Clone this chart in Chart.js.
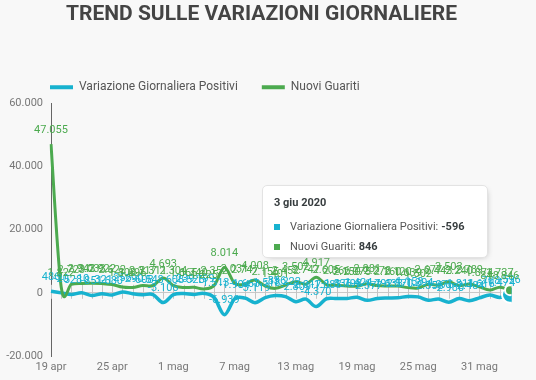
<!DOCTYPE html>
<html><head><meta charset="utf-8">
<script src="https://cdn.jsdelivr.net/npm/chart.js@4"></script>
<style>
html,body{margin:0;padding:0;background:#f8f8f8;}
#wrap{position:relative;width:536px;height:380px;overflow:hidden;}
#tt{position:absolute;pointer-events:none;background:#fff;border:1px solid #e3e3e3;border-radius:5px;box-shadow:2px 2px 6px -4px #999;font-family:Roboto,sans-serif;font-size:11px;color:#555;white-space:nowrap;box-sizing:border-box;opacity:0;}
.tt-title{font-weight:bold;color:#373d3f;line-height:14px;padding:10px 20px 7px 11px;}
.tt-row{height:20px;line-height:20px;padding:0 22px 0 11px;display:flex;align-items:center;}
.tt-m{display:inline-block;width:6px;height:6px;margin-right:10px;}
.tt-row b{color:#373d3f;margin-left:3px;}
</style></head><body>
<div id="wrap"><canvas id="c" width="536" height="380"></canvas><div id="tt"></div></div>
<script>
const days = ['19 apr','20 apr','21 apr','22 apr','23 apr','24 apr','25 apr','26 apr','27 apr','28 apr','29 apr','30 apr',
  '1 mag','2 mag','3 mag','4 mag','5 mag','6 mag','7 mag','8 mag','9 mag','10 mag','11 mag','12 mag','13 mag','14 mag','15 mag',
  '16 mag','17 mag','18 mag','19 mag','20 mag','21 mag','22 mag','23 mag','24 mag','25 mag','26 mag','27 mag','28 mag','29 mag',
  '30 mag','31 mag','1 giu','2 giu','3 giu'];
const year = '2020';
const positivi = [486,-20,-528,-10,-851,-321,-680,256,-290,-608,-548,-3106,
  -608,-239,-525,-199,-1513,-6939,-1904,-1663,-3119,-1518,-836,-1222,-2809,-2017,-4370,
  -1883,-1836,-1798,-1424,-2377,-1792,-1638,-1570,-1158,-1294,-2358,-1976,-2980,-1811,
  -2484,-1616,-708,-1474,-596];
const guariti = [47055,1822,2723,2943,3033,2922,2622,1808,1696,2317,2311,4693,
  2304,1665,1740,1225,2352,8014,3031,2747,4008,2155,1401,2452,3502,2747,4917,
  2605,2366,2150,2075,2881,2278,2160,2120,1639,1502,2677,2443,3503,2240,
  2789,1874,848,1737,846];
const seriesNames = ['Variazione Giornaliera Positivi','Nuovi Guariti'];
const seriesColors = ['#17b2cf','#4caa4f'];
const titleText = 'TREND SULLE VARIAZIONI GIORNALIERE';
const yMin = -20000, yMax = 60000, yStep = 20000;
const tickEvery = 6;

function fmt(v){
  const s = String(Math.abs(v)).replace(/\B(?=(\d{3})+(?!\d))/g,'.');
  return (v < 0 ? '-' : '') + s;
}

// uniform Catmull-Rom style smoothing on the library's own point elements
const smoothCurve = {
  id: 'smoothCurve',
  beforeDatasetDraw(chart, args){
    const meta = args.meta;
    const line = meta.dataset;
    if (!line) return;
    line.updateControlPoints(chart.chartArea, meta.indexAxis);
    const pts = meta.data;
    const n = pts.length;
    for (let i = 0; i < n; i++){
      const p = pts[i], prev = pts[Math.max(i - 1, 0)], next = pts[Math.min(i + 1, n - 1)];
      const dx = (next.x - prev.x) / 6, dy = (next.y - prev.y) / 6;
      p.cp1x = p.x - dx; p.cp1y = p.y - dy;
      p.cp2x = p.x + dx; p.cp2y = p.y + dy;
    }
  }
};

const dataLabels = {
  id: 'dataLabels',
  afterDatasetsDraw(chart){
    const ctx = chart.ctx;
    ctx.save();
    ctx.font = '11px Roboto';
    ctx.textAlign = 'center';
    ctx.textBaseline = 'middle';
    chart.data.datasets.forEach((ds, di) => {
      const meta = chart.getDatasetMeta(di);
      ctx.fillStyle = ds.borderColor;
      meta.data.forEach((pt, i) => ctx.fillText(fmt(ds.data[i]), pt.x, pt.y - 14));
    });
    ctx.restore();
  }
};

const zeroTicks = {
  id: 'zeroTicks',
  beforeDatasetsDraw(chart){
    const ctx = chart.ctx;
    const y0 = chart.scales.y.getPixelForValue(0);
    const xs = chart.scales.x;
    ctx.save();
    ctx.strokeStyle = '#c4c4c4';
    ctx.lineWidth = 1;
    ctx.beginPath();
    for (let i = 0; i < days.length; i++){
      const x = Math.round(xs.getPixelForValue(i)) + 0.5;
      ctx.moveTo(x, y0 - 8);
      ctx.lineTo(x, y0 + 6);
    }
    ctx.stroke();
    ctx.restore();
  }
};

const shiftBoxes = {
  id: 'shiftBoxes',
  afterLayout(chart){
    const lg = chart.legend;
    if (lg){ lg.left += 21; lg.right += 21; }
    const tb = chart.titleBlock;
    if (tb){ tb.left += 4; tb.right += 4; }
  }
};

function externalTooltip(context){
  const {tooltip} = context;
  const el = document.getElementById('tt');
  if (tooltip.opacity === 0 || !tooltip.dataPoints || !tooltip.dataPoints.length){ el.style.opacity = 0; return; }
  const pts = tooltip.dataPoints.slice().sort((a,b) => a.datasetIndex - b.datasetIndex);
  const idx = pts[0].dataIndex;
  let html = '<div class="tt-title">' + days[idx] + ' ' + year + '</div>';
  pts.forEach(p => {
    html += '<div class="tt-row"><span class="tt-m" style="background:' + p.dataset.borderColor + '"></span>' +
      p.dataset.label + ':<b>' + fmt(p.raw) + '</b></div>';
  });
  el.innerHTML = html;
  el.style.opacity = 1;
  el.style.left = (tooltip.caretX - 248) + 'px';
  el.style.top = (tooltip.caretY - 107) + 'px';
}

function draw(){
  Chart.defaults.font.family = 'Roboto';
  const chart = new Chart(document.getElementById('c'), {
    type: 'line',
    data: {
      labels: days,
      datasets: [
        { label: seriesNames[0], data: positivi, borderColor: seriesColors[0], backgroundColor: seriesColors[0],
          borderWidth: 3.5, tension: 0.4, pointRadius: 0, pointHoverRadius: 8,
          pointHoverBackgroundColor: seriesColors[0], pointHoverBorderColor: '#fff', pointHoverBorderWidth: 2, order: 1 },
        { label: seriesNames[1], data: guariti, borderColor: seriesColors[1], backgroundColor: seriesColors[1],
          borderWidth: 3, tension: 0.4, pointRadius: 0, pointHoverRadius: 5,
          pointHoverBackgroundColor: seriesColors[1], pointHoverBorderColor: '#fff', pointHoverBorderWidth: 2, order: 0 }
      ]
    },
    options: {
      responsive: false,
      animation: false,
      devicePixelRatio: 1,
      layout: { padding: { left: 5, right: 26, top: 0, bottom: 0 } },
      interaction: { mode: 'index', intersect: false },
      plugins: {
        title: { display: true, text: titleText, color: '#444',
          font: { family: 'Roboto', size: 21, weight: 'bold' }, padding: { top: 2, bottom: 30 } },
        legend: { position: 'top', align: 'start',
          labels: { boxWidth: 23, boxHeight: 4, padding: 24, color: '#555', font: { size: 12 },
            sort: (a, b) => a.datasetIndex - b.datasetIndex,
            generateLabels: (ch) => Chart.defaults.plugins.legend.labels.generateLabels(ch).map(l => Object.assign(l, { lineWidth: 0 })) } },
        tooltip: { enabled: false, mode: 'index', intersect: false, external: externalTooltip }
      },
      scales: {
        x: {
          grid: { display: false, drawTicks: false },
          border: { display: false },
          ticks: { autoSkip: false, maxRotation: 0, color: '#777', font: { size: 11 }, padding: 5,
            callback: (v, i) => (i % tickEvery === 0 ? days[i] : '') },
          afterFit: (s) => { s.height = 24; }
        },
        y: {
          min: yMin, max: yMax,
          grid: { drawTicks: false, color: (c) => (c.tick && c.tick.value === 0 ? '#c8c8c8' : 'rgba(0,0,0,0)') },
          border: { display: true, color: '#666', width: 1 },
          ticks: { stepSize: yStep, color: '#777', font: { size: 11 }, padding: 8, callback: (v) => fmt(v) },
          afterFit: (s) => { s.width = 46; }
        }
      }
    },
    plugins: [smoothCurve, zeroTicks, dataLabels, shiftBoxes]
  });
  const last = days.length - 1;
  const active = [{ datasetIndex: 0, index: last }, { datasetIndex: 1, index: last }];
  const p = chart.getDatasetMeta(1).data[last];
  chart.setActiveElements(active);
  chart.tooltip.setActiveElements(active, { x: p.x, y: p.y });
  chart.update();
}

Promise.all([document.fonts.load('12px Roboto'), document.fonts.load('bold 21px Roboto')]).then(draw, draw);
</script>
</body></html>
